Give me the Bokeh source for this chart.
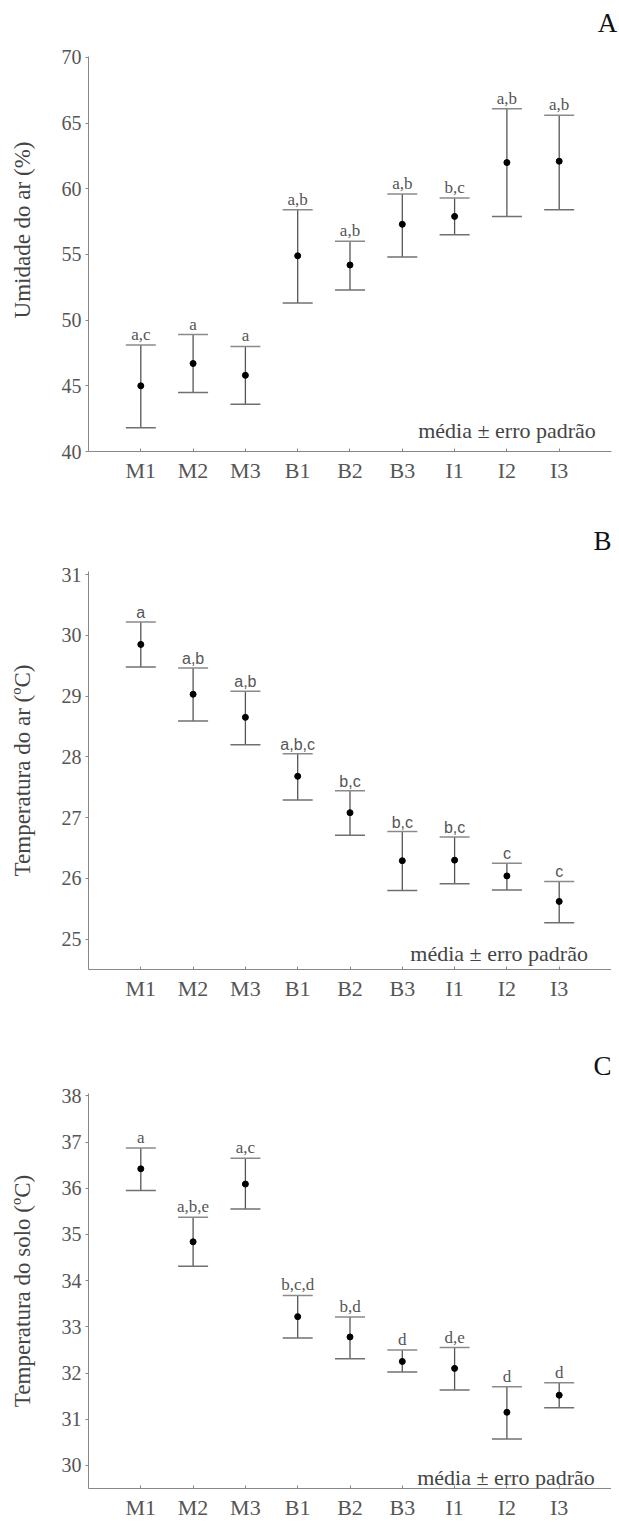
from bokeh.plotting import figure
from bokeh.layouts import column
from bokeh.models import ColumnDataSource, Whisker, TeeHead, FixedTicker, Range1d, Label
from bokeh.core.properties import value
from bokeh.embed import file_html
from bokeh.resources import INLINE

cats = ["M1", "M2", "M3", "B1", "B2", "B3", "I1", "I2", "I3"]
xpos = [1, 2, 3, 4, 5, 6, 7, 8, 9]

umid_mean = [45.0, 46.7, 45.8, 54.9, 54.2, 57.3, 57.9, 62.0, 62.1]
umid_low = [41.8, 44.5, 43.6, 51.3, 52.3, 54.8, 56.5, 57.9, 58.4]
umid_high = [48.1, 48.9, 48.0, 58.4, 56.0, 59.6, 59.3, 66.1, 65.6]
umid_letters = ["a,c", "a", "a", "a,b", "a,b", "a,b", "b,c", "a,b", "a,b"]

tar_mean = [29.85, 29.03, 28.65, 27.68, 27.08, 26.29, 26.30, 26.04, 25.62]
tar_low = [29.48, 28.59, 28.20, 27.29, 26.71, 25.80, 25.91, 25.81, 25.27]
tar_high = [30.22, 29.46, 29.08, 28.05, 27.44, 26.77, 26.68, 26.25, 25.95]
tar_letters = ["a", "a,b", "a,b", "a,b,c", "b,c", "b,c", "b,c", "c", "c"]

tsolo_mean = [36.42, 34.84, 36.09, 33.22, 32.78, 32.25, 32.10, 31.15, 31.52]
tsolo_low = [35.95, 34.31, 35.55, 32.76, 32.31, 32.02, 31.63, 30.57, 31.25]
tsolo_high = [36.87, 35.37, 36.65, 33.68, 33.21, 32.50, 32.55, 31.70, 31.79]
tsolo_letters = ["a", "a,b,e", "a,c", "b,c,d", "b,d", "d", "d,e", "d", "d"]

SERIF = "Liberation Serif"
SANS = "Liberation Sans"


def panel(ylabel, mean, low, high, letters, yr, ybounds, yticks, letter_font, letter_size,
          width, xend, height, top, bottom, note_xy):
    p = figure(width=width, height=height, output_backend="svg", toolbar_location=None,
               x_range=Range1d(0, xend), y_range=Range1d(*yr),
               min_border_left=88, min_border_right=0,
               min_border_top=top, min_border_bottom=bottom)
    p.outline_line_color = None
    p.xgrid.visible = False
    p.ygrid.visible = False

    src = ColumnDataSource(dict(x=xpos, mean=mean, low=low, high=high, lab=letters))
    w = Whisker(base="x", lower="low", upper="high", source=src, dimension="height",
                line_color="#555555", line_width=1.3,
                upper_head=TeeHead(size=30, line_color="#8a8a8a", line_width=1.5),
                lower_head=TeeHead(size=30, line_color="#707070", line_width=1.5))
    p.add_layout(w)
    p.scatter("x", "mean", source=src, size=6, color="black")
    p.text("x", "high", text="lab", source=src, text_align="center",
           text_baseline="bottom", y_offset=-1,
           text_font=value(letter_font), text_font_size=letter_size, text_color="#555555")

    note = Label(x=note_xy[0], y=note_xy[1], text="média ± erro padrão",
                 text_align="right", text_baseline="alphabetic",
                 text_font=SERIF, text_font_size="22px", text_color="#444444")
    p.add_layout(note)

    xa = p.xaxis[0]
    xa.ticker = FixedTicker(ticks=xpos)
    xa.bounds = (0, 10)
    xa.major_label_overrides = {x: c for x, c in zip(xpos, cats)}
    xa.major_tick_in = 3
    xa.major_tick_out = 0
    xa.minor_tick_line_color = None
    xa.axis_line_color = "#888888"
    xa.major_tick_line_color = "#888888"
    xa.major_label_standoff = 6
    xa.major_label_text_font = SERIF
    xa.major_label_text_font_size = "22px"
    xa.major_label_text_color = "#555555"

    ya = p.yaxis[0]
    ya.ticker = FixedTicker(ticks=yticks)
    ya.bounds = ybounds
    ya.major_tick_in = 0
    ya.major_tick_out = 3
    ya.minor_tick_line_color = None
    ya.axis_line_color = "#888888"
    ya.major_tick_line_color = "#888888"
    ya.major_label_standoff = 4
    ya.major_label_text_font = SERIF
    ya.major_label_text_font_size = "20px"
    ya.major_label_text_color = "#555555"
    ya.axis_label = ylabel
    ya.axis_label_text_font = SERIF
    ya.axis_label_text_font_size = "23px"
    ya.axis_label_text_font_style = "normal"
    ya.axis_label_text_color = "#444444"
    ya.axis_label_standoff = 24
    return p


def set_tag(p, tag, standoff):
    p.title.text = tag
    p.title.align = "right"
    p.title.vertical_align = "bottom"
    p.title.standoff = standoff
    p.title.text_font = SERIF
    p.title.text_font_size = "27px"
    p.title.text_font_style = "normal"
    p.title.text_color = "#111111"


# Panel A: frame extended upward so that the panel tag sits inside it
pA = panel("Umidade do ar (%)", umid_mean, umid_low, umid_high, umid_letters,
           (40, 73.73), (40, 70.1), [40, 45, 50, 55, 60, 65, 70], SERIF, "17px",
           619, 10.153, 491, 8, 40, (9.7, 41.6))
pA.add_layout(Label(x=10.11, y=72.6, text="A", text_align="right",
                    text_baseline="alphabetic", text_font=SERIF,
                    text_font_size="27px", text_color="#111111"))

pB = panel("Temperatura do ar (ºC)", tar_mean, tar_low, tar_high, tar_letters,
           (24.5, 31.05), (24.5, 31.05), [25, 26, 27, 28, 29, 30, 31], SANS, "16px",
           611, 10, 518, 80, 40, (9.55, 24.77))
set_tag(pB, "B", 32)

pC = panel("Temperatura do solo (ºC)", tsolo_mean, tsolo_low, tsolo_high, tsolo_letters,
           (29.5, 38.05), (29.5, 38.05), [30, 31, 32, 33, 34, 35, 36, 37, 38], SERIF, "17px",
           611, 10, 513, 84, 33, (9.68, 29.74))
set_tag(pC, "C", 25)

layout = column(pA, pB, pC, spacing=0)
open("out.html", "w").write(file_html(layout, INLINE))
